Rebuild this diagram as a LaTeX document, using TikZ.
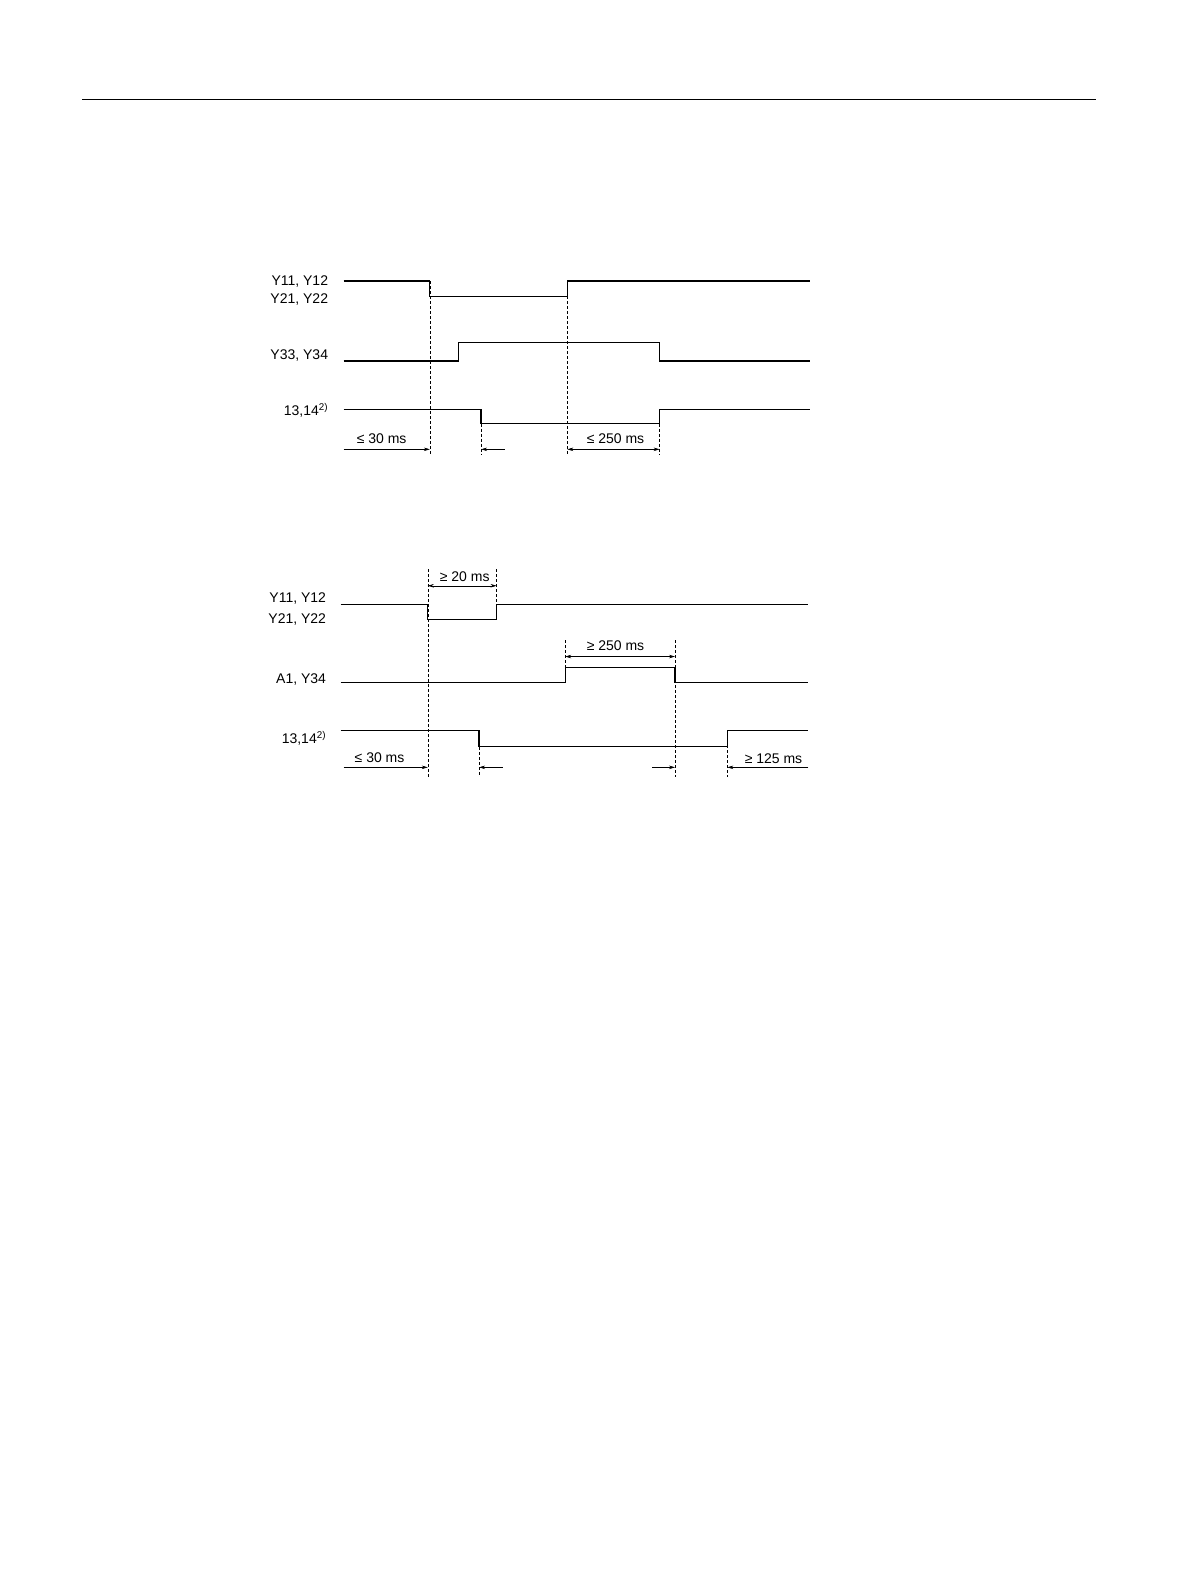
\documentclass[tikz,border=0pt]{standalone}
\usepackage{fontspec}
\setmainfont{Liberation Sans}
\usetikzlibrary{arrows.meta}
\begin{document}
\begin{tikzpicture}[x=1.026pt,y=-1.026pt,
  wave/.style={line width=1.3pt},
  guide/.style={dashed,line width=0.5pt,dash pattern=on 3pt off 2pt},
  dim/.style={line width=0.5pt,-{Stealth[length=6pt,width=3.5pt]}},
  ddim/.style={line width=0.5pt,{Stealth[length=6pt,width=3.5pt]}-{Stealth[length=6pt,width=3.5pt]}},
  lab/.style={anchor=east,font=\fontsize{14}{16}\selectfont,inner sep=0pt},
  dlab/.style={font=\fontsize{14}{16}\selectfont,inner sep=0pt}]
\useasboundingbox[fill=white] (0,0) rectangle (1160,1547);
\draw[line width=1.1pt] (80,97) -- (1068,97);
% ---- diagram 1
\node[lab] (l1a) at (320,274) {Y11, Y12};
\node[lab] (l1b) at (320,292) {Y21, Y22};
\node[lab] (l1c) at (320,347) {Y33, Y34};
\node[lab] (l1d) at (320,400) {13,14\textsuperscript{2)}};
\draw[wave] (335,274) -- (419,274) -- (419,289) -- (553,289) -- (553,274) -- (790,274);
\draw[wave] (335,352) -- (447,352) -- (447,334) -- (643,334) -- (643,352) -- (790,352);
\draw[wave] (335,399) -- (469,399) -- (469,413) -- (643,413) -- (643,399) -- (790,399);
\draw[guide] (419,274) -- (419,443);
\draw[guide] (553,289) -- (553,443);
\draw[guide] (469,413) -- (469,443);
\draw[guide] (643,413) -- (643,443);
\draw[dim] (335,438) -- (419,438);
\draw[dim] (492,438) -- (469,438);
\draw[ddim] (553,438) -- (643,438);
\node[dlab] (t1a) at (372,428) {≤ 30 ms};
\node[dlab] (t1b) at (600,428) {≤ 250 ms};
% ---- diagram 2
\node[lab] (l2a) at (318,583) {Y11, Y12};
\node[lab] (l2b) at (318,604) {Y21, Y22};
\node[lab] (l2c) at (318,662) {A1, Y34};
\node[lab] (l2d) at (318,720) {13,14\textsuperscript{2)}};
\draw[wave] (332,589) -- (417,589) -- (417,604) -- (484,604) -- (484,589) -- (788,589);
\draw[wave] (332,665) -- (551,665) -- (551,651) -- (658,651) -- (658,665) -- (788,665);
\draw[wave] (332,712) -- (467,712) -- (467,728) -- (709,728) -- (709,712) -- (788,712);
\draw[guide] (417,555) -- (417,757);
\draw[guide] (484,555) -- (484,589);
\draw[guide] (551,624) -- (551,651);
\draw[guide] (658,624) -- (658,757);
\draw[guide] (467,728) -- (467,757);
\draw[guide] (709,712) -- (709,757);
\draw[ddim] (417,571) -- (484,571);
\draw[ddim] (551,640) -- (658,640);
\draw[dim] (335,748) -- (417,748);
\draw[dim] (490,748) -- (467,748);
\draw[dim] (636,748) -- (658,748);
\draw[dim] (788,748) -- (709,748);
\node[dlab] (t2a) at (453,562) {≥ 20 ms};
\node[dlab] (t2b) at (600,629) {≥ 250 ms};
\node[dlab] (t2c) at (370,739) {≤ 30 ms};
\node[dlab] (t2d) at (754,740) {≥ 125 ms};
\end{tikzpicture}
\end{document}
